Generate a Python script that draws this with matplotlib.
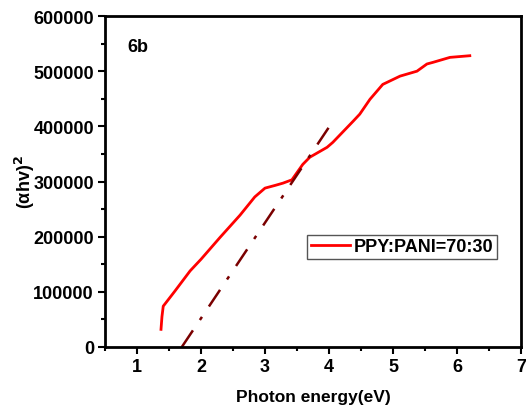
import matplotlib
matplotlib.use("Agg")
import matplotlib.pyplot as plt
from matplotlib.ticker import MultipleLocator

plt.rcParams['font.family'] = ['Liberation Sans', 'DejaVu Sans']
plt.rcParams['font.weight'] = 'bold'
plt.rcParams['mathtext.default'] = 'bf'

energy = [1.375, 1.39, 1.41, 1.47, 1.59, 1.83, 2.0, 2.30, 2.61, 2.84, 3.0, 3.16, 3.28, 3.42,
          3.59, 3.70, 3.97, 4.06, 4.375, 4.48, 4.64, 4.84, 5.11, 5.375, 5.53, 5.625, 5.89, 6.2]
ahv2 = [32000, 55000, 74000, 83000, 101000, 138000, 159000, 199000, 239000, 272000, 288000,
        293000, 297000, 303000, 331000, 344000, 362000, 371000, 409000, 422000, 449000, 476000,
        491000, 500000, 513000, 516000, 525000, 528000]
fit_x = [1.70, 4.06]
fit_y = [0, 409000]

fig = plt.figure(figsize=(5.26, 4.06), dpi=100)
ax = fig.add_axes([105/526, 1-348/406, 416/526, 331/406])

ax.plot(energy, ahv2, color='#ff0000', lw=2, label='PPY:PANI=70:30')
ax.plot(fit_x, fit_y, color='#7a0000', lw=1.8, linestyle=(0, (8, 5, 1.5, 5)))

ax.set_xlim(0.5, 7)
ax.set_ylim(0, 600000)
ax.xaxis.set_major_locator(MultipleLocator(1))
ax.xaxis.set_minor_locator(MultipleLocator(0.5))
ax.yaxis.set_major_locator(MultipleLocator(100000))
ax.yaxis.set_minor_locator(MultipleLocator(50000))
ax.tick_params(which='both', direction='out', width=1.5, labelsize=13, pad=3)
ax.tick_params(which='major', length=5)
ax.tick_params(which='minor', length=3)
for s in ax.spines.values():
    s.set_linewidth(2)
for lab in ax.get_xticklabels() + ax.get_yticklabels():
    lab.set_fontweight('bold')

ax.set_xlabel('Photon energy(eV)', fontsize=12.5, fontweight='bold', labelpad=10)
ax.set_ylabel('(αhv)$^2$', fontsize=13, fontweight='bold', labelpad=-3)
ax.text(0.053, 0.909, '6b', transform=ax.transAxes, fontsize=13, fontweight='bold', va='center')

leg = ax.legend(loc='lower left', bbox_to_anchor=(0.486, 0.266), fancybox=False,
                edgecolor='#555555', framealpha=1, prop={'weight': 'bold', 'size': 13},
                borderpad=0.2, handlelength=2.15, handletextpad=0.25, borderaxespad=0)
leg.get_frame().set_linewidth(1)

fig.savefig('out.png', dpi=100)
